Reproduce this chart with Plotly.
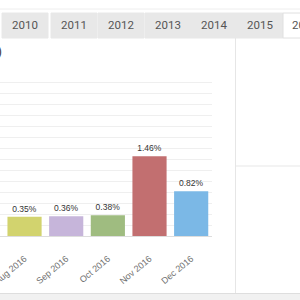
import plotly.graph_objects as go

# ---- data ----
months = ["Aug 2016", "Sep 2016", "Oct 2016", "Nov 2016", "Dec 2016"]
values = [0.35, 0.36, 0.38, 1.46, 0.82]
bar_colors = ["#d2d36e", "#c6b5da", "#9fbc80", "#c26f70", "#7bb8e6"]
tab_labels = ["2010", "2011", "2012", "2013", "2014", "2015", "2016"]
tab_lefts = [2, 51, 98, 145, 191, 237, 283]
active_tab = "2016"

W = H = 300
def px(x): return x / W
def py(y): return 1 - y / H

fig = go.Figure()
fig.add_trace(go.Bar(
    x=months, y=values,
    marker=dict(color=bar_colors, line=dict(width=0)),
    texttemplate="%{y:.2f}%", textposition="outside", cliponaxis=False,
    textfont=dict(family="Liberation Sans", size=8.5, color="#333333"),
    hoverinfo="skip",
))

shapes = []
annotations = []
# top faint line
shapes.append(dict(type="line", xref="paper", yref="paper", x0=0, x1=1,
                   y0=py(9), y1=py(9), line=dict(color="#eeeeee", width=1)))
for lbl, left in zip(tab_labels, tab_lefts):
    active = (lbl == active_tab)
    w = 46 if not active else 44
    shapes.append(dict(type="rect", xref="paper", yref="paper",
                       x0=px(left), x1=px(left + w), y0=py(38), y1=py(13),
                       fillcolor="#ffffff" if active else "#e8e8e8",
                       line=dict(color="#e0e0e0" if active else "#e8e8e8", width=1)))
    annotations.append(dict(xref="paper", yref="paper", x=px(left + w / 2), y=py(25.5),
                            text=lbl, showarrow=False, xanchor="center", yanchor="middle",
                            font=dict(family="Roboto", size=11.5, color="#555555")))
# panel separators
shapes.append(dict(type="line", xref="paper", yref="paper", x0=px(235.5), x1=px(235.5),
                   y0=py(38), y1=py(293), line=dict(color="#e6e6e6", width=1)))
shapes.append(dict(type="line", xref="paper", yref="paper", x0=px(236), x1=1,
                   y0=py(166), y1=py(166), line=dict(color="#efefef", width=1.5)))
# bottom band
shapes.append(dict(type="rect", xref="paper", yref="paper", x0=0, x1=1,
                   y0=0, y1=py(293.5), fillcolor="#f1f1f1", line=dict(width=0)))
shapes.append(dict(type="line", xref="paper", yref="paper", x0=0, x1=1,
                   y0=py(293.5), y1=py(293.5), line=dict(color="#dedede", width=1)))

annotations.append(dict(xref="paper", yref="paper", x=px(3.5), y=py(52),
                        text="0)", showarrow=False, xanchor="right", yanchor="middle",
                        font=dict(family="Roboto", size=12, color="#333333")))

fig.update_layout(
    width=W, height=H, margin=dict(l=0, r=0, t=0, b=0, autoexpand=False),
    paper_bgcolor="white", plot_bgcolor="white",
    showlegend=False, bargap=0.18,
    shapes=shapes, annotations=annotations,
    xaxis=dict(domain=[0, px(212)], type="category", range=[-0.589, 4.5],
               automargin=False,
               showline=True, linecolor="#dddddd", linewidth=1,
               showgrid=False, tickangle=-40, ticks="outside", ticklen=13,
               tickcolor="rgba(0,0,0,0)",
               tickfont=dict(family="Liberation Sans", size=9, color="#707070")),
    yaxis=dict(domain=[py(236), py(72)], range=[0, 3.0], dtick=0.2,
               automargin=False,
               showgrid=True, gridcolor="#efefef", gridwidth=1,
               zeroline=False, showticklabels=False, showline=False),
)

fig.write_html("out.html")
